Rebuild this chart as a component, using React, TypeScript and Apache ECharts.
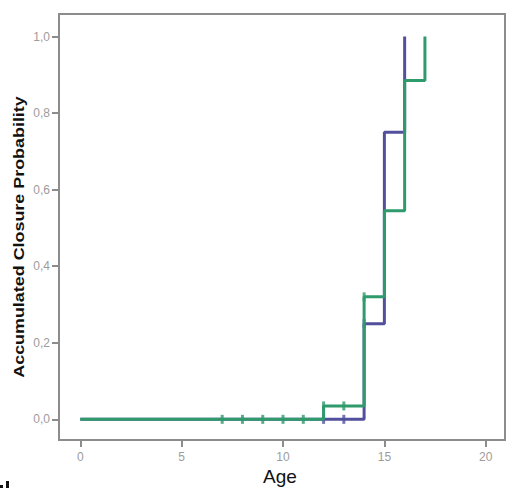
import React, { useEffect, useRef } from "react";
import * as echarts from "echarts";

// Cumulative closure probability (step function), two groups
const blueTimes = [0, 14, 15, 16];
const blueValues = [0, 0.25, 0.75, 1.0];
const blueCensorTimes = [12, 13, 14];
const blueCensorValues = [0, 0, 0.25];

const greenTimes = [0, 12, 14, 15, 16, 17];
const greenValues = [0, 0.035, 0.32, 0.545, 0.885, 1.0];
const greenCensorTimes = [7, 8, 9, 10, 11, 12, 13, 14];
const greenCensorValues = [0, 0, 0, 0, 0, 0.035, 0.035, 0.32];

const xTicks = [0, 5, 10, 15, 20];
const yTicks = [0, 0.2, 0.4, 0.6, 0.8, 1.0];

const BLUE = "#52509c";
const GREEN = "#2f9a6c";
const FRAME = "#8c8c8c";
const FONT = "'Liberation Sans', Arial, sans-serif";

const zip = (xs: number[], ys: number[]) => xs.map((x, i) => [x, ys[i]]);

export default function App() {
  const ref = useRef<HTMLDivElement>(null);
  useEffect(() => {
    if (!ref.current) return;
    const chart = echarts.init(ref.current, undefined, { renderer: "svg" });
    chart.setOption({
      animation: false,
      backgroundColor: "#ffffff",
      grid: {
        show: true,
        left: 59,
        top: 14,
        width: 446,
        height: 426,
        borderColor: FRAME,
        borderWidth: 2,
        backgroundColor: "#ffffff",
      },
      xAxis: {
        type: "value",
        min: -1.05,
        max: 20.95,
        axisLine: { show: false, onZero: false },
        splitLine: { show: false },
        axisTick: {
          show: true,
          customValues: xTicks,
          length: 7,
          lineStyle: { color: FRAME, width: 2 },
        },
        axisLabel: {
          customValues: xTicks,
          color: "#9c9c9c",
          fontSize: 12,
          fontFamily: FONT,
          margin: 11,
        },
      },
      yAxis: {
        type: "value",
        min: -0.054,
        max: 1.059,
        axisLine: { show: false, onZero: false },
        splitLine: { show: false },
        axisTick: {
          show: true,
          customValues: yTicks,
          length: 7,
          lineStyle: { color: FRAME, width: 2 },
        },
        axisLabel: {
          customValues: yTicks,
          color: "#9c9c9c",
          fontSize: 12,
          fontFamily: FONT,
          margin: 9,
          formatter: (v: number) => v.toFixed(1).replace(".", ","),
        },
      },
      series: [
        {
          type: "line",
          step: "end",
          data: zip(blueTimes, blueValues),
          showSymbol: false,
          lineStyle: { color: BLUE, width: 3 },
          z: 2,
        },
        {
          type: "scatter",
          data: zip(blueCensorTimes, blueCensorValues),
          symbol: "rect",
          symbolSize: [3, 9],
          itemStyle: { color: BLUE },
          z: 3,
        },
        {
          type: "line",
          step: "end",
          data: zip(greenTimes, greenValues),
          showSymbol: false,
          lineStyle: { color: GREEN, width: 3 },
          z: 4,
        },
        {
          type: "scatter",
          data: zip(greenCensorTimes, greenCensorValues),
          symbol: "rect",
          symbolSize: [3, 9],
          itemStyle: { color: GREEN },
          z: 5,
        },
      ],
      graphic: [
        {
          type: "text",
          x: 19,
          y: 237,
          rotation: Math.PI / 2,
          scaleX: 1.28,
          style: {
            text: "Accumulated Closure Probability",
            align: "center",
            verticalAlign: "middle",
            fill: "#111111",
            font: `bold 14px ${FONT}`,
          },
        },
        {
          type: "text",
          x: 280,
          y: 476,
          style: {
            text: "Age",
            align: "center",
            verticalAlign: "middle",
            fill: "#111111",
            font: `normal 19px ${FONT}`,
          },
        },
        // fragment of a cut-off glyph at the bottom-left edge
        { type: "rect", shape: { x: 6, y: 481, width: 3, height: 7 }, style: { fill: "#111111" } },
        { type: "rect", shape: { x: 0, y: 485, width: 3, height: 3 }, style: { fill: "#111111" } },
      ],
    });
    return () => chart.dispose();
  }, []);
  return (
    <div
      ref={ref}
      style={{ position: "fixed", left: 0, top: 0, width: 506, height: 488 }}
    />
  );
}
